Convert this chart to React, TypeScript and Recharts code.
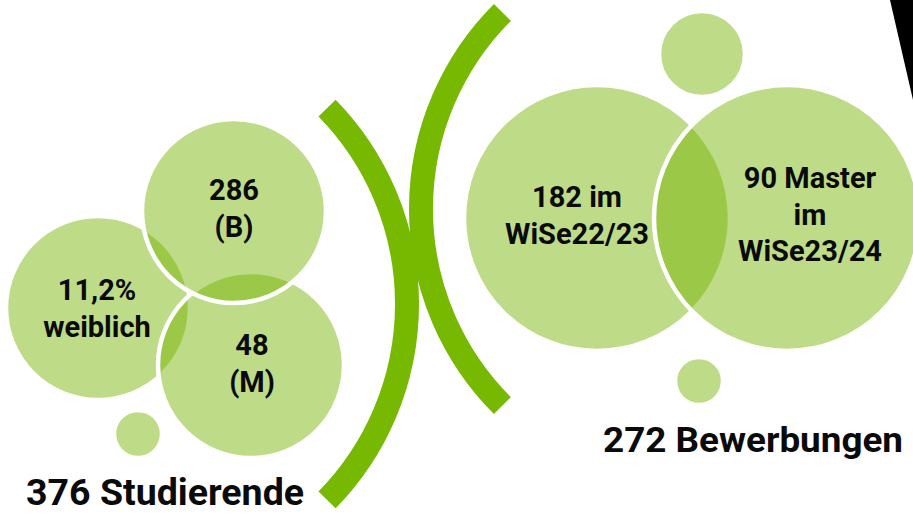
import { ScatterChart, Scatter, XAxis, YAxis } from "recharts";

const W = 913;
const H = 514;

// left group (Studierende): bubbles drawn back to front
const studentBubbles = [
  { key: "weiblich", x: 98, y: 308, r: 92 },
  { key: "master", x: 251, y: 365, r: 93 },
  { key: "bachelor", x: 234, y: 211, r: 92 },
  { key: "dot", x: 138, y: 434, r: 24 },
];

// right group (Bewerbungen)
const applicationBubbles = [
  { key: "wise22", x: 597, y: 218, r: 133 },
  { key: "wise23", x: 787, y: 218, r: 133 },
  { key: "dotTop", x: 702, y: 54, r: 43 },
  { key: "dotBottom", x: 699, y: 381, r: 24 },
];

// the two bracket arcs: centre, radius, start/end angle (deg, screen)
const brackets = [
  { x: 127, y: 304, r: 280, from: -44.4, to: 44.4 },
  { x: 699, y: 209, r: 278, from: 135, to: 225 },
];

const corner = [
  { x: 890, y: 0 },
  { x: 913, y: 0 },
  { x: 913, y: 100 },
];

const bubbleLabels = [
  { x: 234, y: 200, lines: ["286", "(B)"] },
  { x: 252, y: 355, lines: ["48", "(M)"] },
  { x: 97, y: 300, lines: ["11,2%", "weiblich"] },
  { x: 577, y: 207, lines: ["182 im", "WiSe22/23"] },
  { x: 810, y: 188, lines: ["90 Master", "im", "WiSe23/24"] },
];

const titles = [
  { x: 165, y: 505, text: "376 Studierende" },
  { x: 753, y: 452, text: "272 Bewerbungen" },
];
const titleSizes = [37, 35];
const titleWidths = [278, 300];

const FONT = "Roboto, 'DejaVu Sans', sans-serif";
const PX = W / W; // px per data unit (domain == plot size)

const Bubble = (props: any) => {
  const { cx, cy, payload } = props;
  return (
    <circle
      cx={cx}
      cy={cy}
      r={payload.r * PX}
      fill="#74B500"
      fillOpacity={0.47}
      stroke="#fff"
      strokeWidth={4.5}
    />
  );
};

const Bracket = (props: any) => {
  const { cx, cy, payload } = props;
  const r = payload.r * PX;
  const a0 = (payload.from * Math.PI) / 180;
  const a1 = (payload.to * Math.PI) / 180;
  const x0 = cx + r * Math.cos(a0);
  const y0 = cy + r * Math.sin(a0);
  const x1 = cx + r * Math.cos(a1);
  const y1 = cy + r * Math.sin(a1);
  return (
    <path
      d={`M${x0},${y0} A${r},${r} 0 0 1 ${x1},${y1}`}
      fill="none"
      stroke="#76B900"
      strokeWidth={24}
      strokeLinecap="butt"
    />
  );
};

const BubbleLabel = (props: any) => {
  const { cx, cy, payload } = props;
  return (
    <text
      x={cx}
      y={cy}
      textAnchor="middle"
      fontFamily={FONT}
      fontWeight={700}
      fontSize={29}
      fill="#0a0a0a"
    >
      {payload.lines.map((l: string, i: number) => (
        <tspan key={i} x={cx} dy={i === 0 ? 0 : 36.5}>
          {l}
        </tspan>
      ))}
    </text>
  );
};

const Title = (props: any) => {
  const { cx, cy, payload, index } = props;
  return (
    <text
      x={cx}
      y={cy}
      textAnchor="middle"
      fontFamily={FONT}
      fontWeight={700}
      fontSize={titleSizes[index] ?? 34}
      textLength={titleWidths[index]}
      lengthAdjust="spacingAndGlyphs"
      fill="#0a0a0a"
    >
      {payload.text}
    </text>
  );
};

const nothing = () => <g />;

export default function App() {
  return (
    <div style={{ position: "absolute", left: 0, top: 0, background: "#fff" }}>
      <ScatterChart
        width={W}
        height={H}
        margin={{ top: 0, right: 0, bottom: 0, left: 0 }}
      >
        <XAxis type="number" dataKey="x" domain={[0, W]} hide />
        <YAxis type="number" dataKey="y" domain={[0, H]} reversed hide />

        <Scatter data={brackets} shape={Bracket} isAnimationActive={false} />
        <Scatter data={studentBubbles} shape={Bubble} isAnimationActive={false} />
        <Scatter data={applicationBubbles} shape={Bubble} isAnimationActive={false} />
        <Scatter
          data={corner}
          shape={nothing}
          line={(p: any) => (
            <polygon
              points={p.points.map((q: any) => `${q.x},${q.y}`).join(" ")}
              fill="#000"
            />
          )}
          isAnimationActive={false}
        />
        <Scatter data={bubbleLabels} shape={BubbleLabel} isAnimationActive={false} />
        <Scatter data={titles} shape={Title} isAnimationActive={false} />
      </ScatterChart>
    </div>
  );
}
